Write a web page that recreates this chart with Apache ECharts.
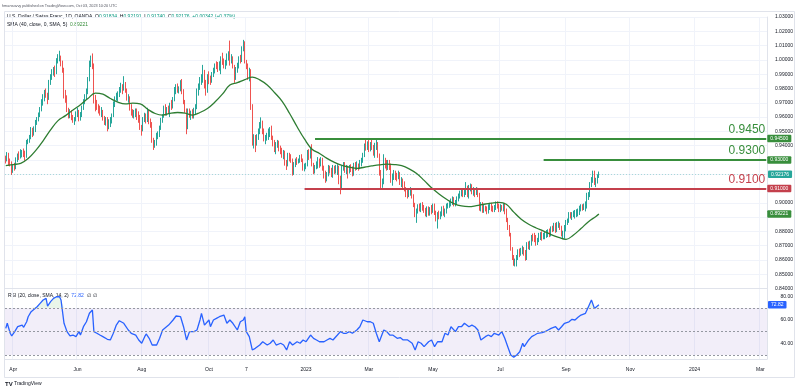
<!DOCTYPE html>
<html><head><meta charset="utf-8">
<script src="https://cdn.jsdelivr.net/npm/echarts@6/dist/echarts.min.js"></script>
<style>html,body{margin:0;padding:0;background:#fff}#c{width:800px;height:392px}</style>
</head><body><div id="c"></div>
<script>
// ---------- DATA ----------
const firstDate = '2022-03-25';
const lastDate = '2024-03-07';
const firstOpen = 0.9310;
const closes = [
0.9298,0.9335,0.9300,0.9282,0.9232,
0.9255,0.9250,0.9300,0.9330,0.9328,0.9335,0.9352,0.9350,0.9322,0.9425,0.9435,0.9452,0.9510,0.9478,0.9500,0.9562,0.9580,0.9612,0.9652,0.9705,0.9728,
0.9772,0.9758,0.9728,0.9842,0.9880,0.9918,0.9930,0.9908,0.9998,1.0005,1.0015,0.9978,0.9935,0.9752,0.9738,0.9650,0.9615,0.9635,0.9595,0.9580,0.9585,0.9620,
0.9640,0.9590,0.9612,0.9660,0.9700,0.9742,0.9772,0.9862,0.9980,1.0012,0.9960,0.9712,0.9710,0.9665,0.9650,0.9640,0.9642,0.9592,0.9570,0.9578,0.9550,0.9552,
0.9570,0.9612,0.9690,0.9730,0.9740,0.9752,0.9792,0.9810,0.9790,0.9830,0.9790,0.9730,0.9732,0.9660,0.9630,0.9620,0.9622,0.9632,0.9610,0.9598,0.9528,
0.9510,0.9582,0.9600,0.9580,0.9640,0.9570,0.9552,0.9440,0.9400,0.9410,0.9470,0.9480,0.9522,0.9580,0.9600,0.9660,0.9630,0.9650,0.9648,0.9680,0.9670,0.9722,0.9790,
0.9800,0.9788,0.9800,0.9840,0.9780,0.9710,0.9650,0.9530,0.9640,0.9620,0.9620,0.9612,0.9650,0.9670,0.9780,0.9810,0.9860,0.9862,0.9892,0.9850,0.9785,0.9880,
0.9872,0.9870,0.9900,0.9930,0.9962,0.9960,0.9950,0.9962,1.0002,0.9990,0.9960,0.9980,1.0020,1.0030,0.9985,1.0010,0.9958,0.9870,0.9930,0.9950,1.0010,
1.0000,1.0080,1.0130,0.9990,0.9960,0.9880,0.9920,0.9670,0.9425,0.9450,0.9410,0.9460,0.9500,0.9550,0.9552,0.9500,0.9450,0.9452,0.9470,0.9482,0.9490,0.9460,
0.9420,0.9370,0.9410,0.9410,0.9380,0.9370,0.9335,0.9342,0.9272,0.9262,0.9330,0.9320,0.9300,0.9205,0.9270,0.9292,0.9290,0.9300,0.9310,0.9300,0.9242,0.9250,
0.9262,0.9352,0.9330,0.9372,0.9272,0.9222,0.9250,0.9270,0.9300,0.9262,0.9300,0.9240,0.9200,0.9162,0.9200,0.9250,0.9230,0.9200,0.9250,0.9222,0.9232,0.9250,
0.9150,0.9112,0.9242,0.9262,0.9230,0.9242,0.9230,0.9240,0.9232,0.9200,0.9262,0.9250,0.9262,0.9242,0.9280,0.9290,0.9332,0.9400,0.9390,0.9410,
0.9380,0.9410,0.9392,0.9350,0.9390,0.9410,0.9330,0.9210,0.9130,0.9140,0.9290,0.9280,0.9250,0.9272,0.9262,0.9160,0.9190,0.9200,0.9182,0.9180,0.9200,0.9142,0.9150,
0.9140,0.9100,0.9070,0.9050,0.9072,0.9080,0.9050,0.8990,0.8910,0.8942,0.8972,0.8960,0.8990,0.8960,0.8952,0.8920,0.8962,0.8920,0.8952,0.8942,
0.8980,0.8932,0.8890,0.8920,0.8910,0.8922,0.8962,0.8930,0.8942,0.8980,0.8982,0.9000,0.9002,0.9030,0.8992,0.9000,0.9032,0.9050,0.9062,0.9080,0.9060,0.9072,0.9100,
0.9060,0.9110,0.9112,0.9080,0.9082,0.9075,0.9090,0.9060,0.8960,0.8990,0.8950,0.8962,0.8960,0.8940,0.8972,0.8980,0.8960,0.8950,0.8960,0.8990,0.8982,0.8950,
0.8972,0.8962,0.8975,0.8940,0.8880,0.8830,0.8780,0.8680,0.8620,0.8582,0.8585,0.8620,0.8650,0.8642,0.8662,0.8680,0.8650,0.8612,0.8710,0.8700,0.8712,
0.8760,0.8752,0.8750,0.8722,0.8740,0.8770,0.8772,0.8770,0.8772,0.8780,0.8782,0.8800,0.8780,0.8822,0.8820,0.8842,0.8810,0.8850,0.8852,0.8830,0.8780,0.8790,0.8830,
0.8860,0.8880,0.8920,0.8912,0.8920,0.8922,0.8930,0.8932,0.8932,0.8962,0.8972,0.8970,0.8980,0.8990,0.9050,0.9052,0.9130,0.9160,0.9212,0.9150,0.9152,
0.91834,0.92176
];
const highs = [
0.9330,0.9355,0.9350,0.9310,0.9290,
0.9272,0.9280,0.9318,0.9345,0.9360,0.9375,0.9370,0.9380,0.9365,0.9440,0.9448,0.9475,0.9530,0.9525,0.9535,0.9580,0.9600,0.9632,0.9670,0.9725,0.9760,
0.9790,0.9800,0.9770,0.9860,0.9900,0.9935,0.9950,0.9960,1.0012,1.0040,1.0064,1.0030,0.9995,0.9945,0.9790,0.9752,0.9665,0.9655,0.9648,0.9615,0.9600,0.9640,
0.9665,0.9650,0.9635,0.9680,0.9725,0.9760,0.9800,0.9880,0.9995,1.0030,1.0045,0.9975,0.9755,0.9720,0.9690,0.9680,0.9670,0.9650,0.9608,0.9600,0.9600,0.9585,
0.9600,0.9625,0.9710,0.9745,0.9770,0.9780,0.9810,0.9840,0.9830,0.9886,0.9845,0.9800,0.9760,0.9745,0.9690,0.9655,0.9650,0.9660,0.9660,0.9640,0.9615,
0.9545,0.9600,0.9630,0.9625,0.9665,0.9650,0.9590,0.9565,0.9455,0.9440,0.9490,0.9500,0.9540,0.9595,0.9620,0.9680,0.9690,0.9670,0.9680,0.9700,0.9720,0.9740,0.9810,
0.9830,0.9835,0.9815,0.9858,0.9866,0.9795,0.9720,0.9660,0.9660,0.9660,0.9645,0.9655,0.9665,0.9690,0.9800,0.9835,0.9880,0.9900,0.9965,0.9930,0.9860,0.9900,
0.9920,0.9890,0.9915,0.9945,0.9975,0.9990,0.9985,0.9990,1.0025,1.0050,1.0010,1.0000,1.0045,1.0060,1.0135,1.0040,1.0025,0.9965,0.9950,0.9980,1.0025,
1.0035,1.0095,1.0140,1.0125,1.0000,0.9975,0.9945,0.9935,0.9690,0.9480,0.9475,0.9480,0.9520,0.9565,0.9598,0.9575,0.9520,0.9475,0.9490,0.9520,0.9530,0.9540,
0.9470,0.9440,0.9425,0.9440,0.9435,0.9400,0.9385,0.9370,0.9365,0.9300,0.9350,0.9350,0.9340,0.9310,0.9285,0.9310,0.9320,0.9310,0.9335,0.9340,0.9310,0.9275,
0.9280,0.9370,0.9375,0.9390,0.9410,0.9280,0.9265,0.9290,0.9320,0.9310,0.9320,0.9315,0.9260,0.9225,0.9215,0.9265,0.9260,0.9245,0.9265,0.9260,0.9265,0.9270,
0.9260,0.9190,0.9260,0.9285,0.9285,0.9265,0.9260,0.9265,0.9270,0.9255,0.9280,0.9285,0.9290,0.9275,0.9300,0.9315,0.9350,0.9415,0.9440,0.9430,
0.9440,0.9425,0.9440,0.9405,0.9420,0.9440,0.9425,0.9345,0.9230,0.9170,0.9340,0.9315,0.9300,0.9300,0.9300,0.9275,0.9205,0.9230,0.9225,0.9210,0.9225,0.9215,0.9180,
0.9170,0.9150,0.9110,0.9090,0.9090,0.9110,0.9100,0.9060,0.9000,0.8960,0.8990,0.8995,0.9000,0.9005,0.8985,0.8965,0.8975,0.8975,0.8970,0.8985,
0.8995,0.8995,0.8945,0.8935,0.8945,0.8940,0.8975,0.8980,0.8960,0.8995,0.9000,0.9015,0.9030,0.9045,0.9040,0.9020,0.9045,0.9065,0.9085,0.9100,0.9095,0.9095,0.9145,
0.9120,0.9125,0.9135,0.9130,0.9110,0.9100,0.9110,0.9105,0.9070,0.9005,0.9005,0.8985,0.8980,0.8975,0.8990,0.9000,0.9000,0.8980,0.8985,0.9010,0.9010,0.8995,
0.8990,0.8985,0.8998,0.9000,0.8960,0.8895,0.8845,0.8790,0.8690,0.8635,0.8610,0.8635,0.8675,0.8680,0.8685,0.8700,0.8690,0.8670,0.8725,0.8730,0.8735,
0.8775,0.8785,0.8790,0.8775,0.8755,0.8790,0.8795,0.8800,0.8790,0.8800,0.8810,0.8815,0.8820,0.8835,0.8840,0.8860,0.8860,0.8865,0.8870,0.8860,0.8840,0.8805,0.8845,
0.8880,0.8890,0.8935,0.8935,0.8935,0.8945,0.8950,0.8955,0.8960,0.8980,0.8990,0.8990,0.8995,0.9010,0.9070,0.9075,0.9145,0.9180,0.9225,0.9225,0.9175,
0.9200,0.92191
];
const lows = [
0.9275,0.9290,0.9260,0.9255,0.9195,
0.9210,0.9225,0.9235,0.9285,0.9300,0.9310,0.9318,0.9320,0.9295,0.9315,0.9410,0.9420,0.9445,0.9460,0.9470,0.9495,0.9545,0.9570,0.9600,0.9640,0.9680,
0.9710,0.9735,0.9690,0.9720,0.9825,0.9860,0.9890,0.9880,0.9900,0.9975,0.9990,0.9955,0.9910,0.9730,0.9700,0.9635,0.9590,0.9592,0.9578,0.9560,0.9545,0.9570,
0.9600,0.9570,0.9575,0.9600,0.9650,0.9690,0.9725,0.9760,0.9850,0.9950,0.9935,0.9695,0.9640,0.9650,0.9625,0.9610,0.9600,0.9575,0.9545,0.9540,0.9500,0.9515,
0.9530,0.9555,0.9600,0.9670,0.9715,0.9710,0.9740,0.9770,0.9760,0.9785,0.9770,0.9715,0.9700,0.9645,0.9610,0.9595,0.9590,0.9600,0.9580,0.9560,0.9510,
0.9470,0.9500,0.9565,0.9555,0.9565,0.9550,0.9525,0.9420,0.9370,0.9385,0.9400,0.9445,0.9460,0.9510,0.9560,0.9595,0.9610,0.9610,0.9625,0.9600,0.9650,0.9660,0.9710,
0.9760,0.9770,0.9765,0.9780,0.9760,0.9690,0.9630,0.9480,0.9515,0.9595,0.9580,0.9590,0.9590,0.9620,0.9655,0.9750,0.9790,0.9825,0.9840,0.9800,0.9750,0.9770,
0.9830,0.9825,0.9840,0.9880,0.9905,0.9935,0.9915,0.9925,0.9900,0.9965,0.9940,0.9935,0.9960,0.9995,0.9960,0.9975,0.9940,0.9840,0.9860,0.9910,0.9940,
0.9975,0.9985,1.0060,0.9975,0.9935,0.9860,0.9850,0.9650,0.9400,0.9380,0.9355,0.9400,0.9440,0.9480,0.9520,0.9480,0.9430,0.9410,0.9435,0.9440,0.9460,0.9440,
0.9395,0.9355,0.9340,0.9385,0.9360,0.9340,0.9315,0.9305,0.9260,0.9230,0.9255,0.9290,0.9280,0.9190,0.9195,0.9250,0.9265,0.9275,0.9280,0.9285,0.9225,0.9220,
0.9235,0.9255,0.9300,0.9310,0.9255,0.9200,0.9205,0.9235,0.9240,0.9245,0.9255,0.9225,0.9170,0.9140,0.9150,0.9185,0.9205,0.9180,0.9175,0.9200,0.9205,0.9195,
0.9130,0.9060,0.9100,0.9225,0.9210,0.9200,0.9170,0.9205,0.9215,0.9185,0.9190,0.9225,0.9230,0.9225,0.9235,0.9255,0.9280,0.9320,0.9365,0.9370,
0.9355,0.9360,0.9370,0.9330,0.9315,0.9370,0.9315,0.9190,0.9100,0.9105,0.9130,0.9240,0.9225,0.9230,0.9230,0.9140,0.9120,0.9160,0.9160,0.9150,0.9165,0.9125,0.9110,
0.9100,0.9080,0.9040,0.9030,0.9040,0.9050,0.9030,0.8970,0.8900,0.8860,0.8925,0.8940,0.8935,0.8945,0.8930,0.8905,0.8900,0.8910,0.8910,0.8920,
0.8930,0.8915,0.8870,0.8820,0.8885,0.8885,0.8905,0.8910,0.8900,0.8925,0.8960,0.8965,0.8975,0.8985,0.8975,0.8975,0.8990,0.9010,0.9030,0.9045,0.9040,0.9040,0.9055,
0.9040,0.9030,0.9080,0.9060,0.9050,0.9040,0.9055,0.9040,0.8945,0.8940,0.8930,0.8930,0.8940,0.8920,0.8925,0.8950,0.8940,0.8935,0.8935,0.8950,0.8960,0.8935,
0.8935,0.8945,0.8940,0.8920,0.8865,0.8810,0.8765,0.8665,0.8600,0.8560,0.8555,0.8555,0.8600,0.8620,0.8630,0.8640,0.8630,0.8595,0.8600,0.8675,0.8670,
0.8700,0.8730,0.8725,0.8700,0.8705,0.8725,0.8740,0.8735,0.8745,0.8745,0.8755,0.8760,0.8760,0.8765,0.8795,0.8800,0.8790,0.8795,0.8825,0.8810,0.8765,0.8745,0.8750,
0.8800,0.8845,0.8860,0.8890,0.8880,0.8900,0.8890,0.8900,0.8905,0.8915,0.8940,0.8945,0.8950,0.8940,0.8960,0.9020,0.9040,0.9110,0.9140,0.9125,0.9110,
0.9135,0.91740
];
// SMA (40, close, 0, SMA, 5): [bar index, value]
const smaPoints = [
[0,0.926],[5,0.9268],[10,0.9276],[15,0.931],[20,0.9365],[25,0.9434],[30,0.951],[35,0.9575],[40,0.961],[45,0.9649],[50,0.9686],[55,0.973],[60,0.9768],[65,0.976],[70,0.973],[75,0.9705],[80,0.9692],[85,0.9697],[90,0.9692],[95,0.9655],[100,0.9625],[105,0.9614],[110,0.9626],[115,0.9632],[120,0.9628],[125,0.9614],[130,0.9632],[135,0.966],[140,0.9705],[145,0.976],[150,0.9824],[155,0.9841],[160,0.9862],[165,0.988],[170,0.986],[175,0.9824],[180,0.977],[185,0.971],[190,0.9625],[195,0.9532],[200,0.9445],[205,0.9375],[210,0.9345],[215,0.9311],[220,0.9283],[225,0.9262],[230,0.925],[235,0.9241],[240,0.9249],[245,0.9258],[250,0.9266],[255,0.9271],[260,0.9268],[265,0.926],[270,0.9238],[275,0.9205],[280,0.9157],[285,0.9105],[290,0.9062],[295,0.9025],[300,0.8995],[305,0.8978],[310,0.8973],[315,0.898],[320,0.899],[325,0.8998],[330,0.9003],[335,0.899],[340,0.8935],[345,0.8885],[350,0.885],[355,0.8824],[360,0.8802],[365,0.8778],[370,0.8759],[375,0.8745],[380,0.8775],[385,0.882],[390,0.8868],[395,0.8905],[397,0.8922]
];
// RSI: [bar index, value]
const rsiPoints = [
[0,52.7],[1,57],[3,48.5],[4,46.2],[6,49.9],[8,54.1],[11,55.5],[12,53.6],[14,58.3],[15,62.6],[17,66.9],[18,65.5],[21,71.1],[23,74],[25,76.8],[27,78.2],[28,71.7],[30,75.4],[32,78.2],[34,79.6],[36,79.6],[37,76.8],[39,57],[41,49.9],[43,46.2],[45,47],[47,45.6],[49,49.9],[50,47],[52,54.1],[54,58.3],[56,65.5],[58,68.3],[59,49.9],[61,48.5],[63,47],[65,45.6],[68,43.4],[70,42.8],[72,48.5],[74,55.5],[76,59.2],[79,57],[80,58.3],[82,51.3],[84,48.5],[87,47],[89,42.8],[91,40],[93,45.6],[94,47.9],[96,44.2],[98,38.5],[101,38.5],[103,44.2],[105,51.3],[109,55.5],[112,59.8],[114,63.2],[117,62.6],[118,64],[119,54.1],[121,42.8],[123,49.9],[126,49.9],[128,51.3],[130,59.8],[131,65.5],[133,55.5],[136,59.8],[137,54.1],[139,59.8],[141,61.2],[143,62.6],[146,64],[148,57],[150,59.8],[152,57],[155,51.3],[157,58.3],[159,59.8],[160,62.6],[161,49.9],[163,45.6],[165,34.3],[167,35.7],[170,38.5],[172,41.3],[175,38.5],[177,40],[179,42.8],[181,38.5],[184,40],[186,38.5],[188,34.3],[190,41.3],[192,38.5],[195,41.3],[197,40],[199,42.8],[201,41.3],[204,47],[206,44.2],[208,42.8],[210,41.3],[213,41.3],[215,42.8],[217,44.2],[219,42.8],[222,47],[224,49.9],[226,48.5],[228,48.5],[230,49.9],[232,48.5],[235,51.3],[237,54.1],[239,59.8],[242,58.3],[244,58.3],[246,57],[248,48.5],[250,41.3],[253,51.3],[255,49.9],[257,47],[259,47],[262,44.2],[264,44.9],[266,42.8],[269,42.8],[272,40],[274,34.3],[276,41.3],[278,40],[280,37.1],[283,41.3],[285,42.8],[287,37.1],[289,41.3],[292,41.3],[294,48.5],[296,47],[298,54.1],[301,49.9],[303,54.1],[305,54.1],[307,57],[310,54.1],[312,55.5],[314,54.1],[316,51.3],[318,42.8],[321,45.6],[323,47],[325,45.6],[327,48.5],[330,47],[332,49.9],[334,44.2],[336,37.1],[338,30],[340,28],[342,30],[344,32.8],[346,40],[347,37.1],[350,42.8],[352,45.6],[354,47],[356,48.5],[359,49],[361,49.9],[363,51.3],[365,52.7],[368,54.1],[370,51.3],[372,54.1],[374,57],[377,58.3],[379,60.4],[381,59.8],[383,62.1],[385,64],[388,65.5],[390,71.1],[392,76.8],[393,78.2],[394,69.7],[395,71.1],[397,72.82]
];
// horizontal levels drawn on the chart
const levelValues = [0.945, 0.93, 0.91];
const levelStartIdx = [207, 360, 200];
const levelTexts = ['0.9450', '0.9300', '0.9100'];
const levelColors = ['#388e3c', '#388e3c', '#c4404c'];
const lastPrice = 0.92176;
const lastSma = 0.89221;
const lastRsi = 72.82;
// time axis labels
const tickDates = ['2022-04-01','2022-06-01','2022-08-01','2022-10-03','2022-11-07','2023-01-02','2023-03-01','2023-05-01','2023-07-03','2023-09-01','2023-11-01','2024-01-01','2024-03-01'];
const tickTexts = ['Apr','Jun','Aug','Oct','7','2023','Mar','May','Jul','Sep','Nov','2024','Mar'];
const hiddenPriceLabels = ['0.89','0.91','0.92','0.93'];

// ---------- BUILD ----------
function weekdays(a, b) {
  const out = []; let d = new Date(a + 'T00:00:00Z'); const e = new Date(b + 'T00:00:00Z');
  while (d <= e) { const w = d.getUTCDay(); if (w !== 0 && w !== 6) out.push(d.toISOString().slice(0, 10)); d = new Date(d.getTime() + 86400000); }
  return out;
}
const dates = weekdays(firstDate, lastDate);
const endD = dates[dates.length - 1];
const lastD = dates[closes.length - 1];
const candles = closes.map((c, i) => {
  const o = i === 0 ? firstOpen : closes[i - 1];
  return [o, c, Math.min(lows[i], o, c), Math.max(highs[i], o, c)];
});
const tickMap = {}; tickDates.forEach((d, k) => tickMap[d] = tickTexts[k]);
const isTick = (idx, val) => tickMap[val] !== undefined;
const FONT = 'Liberation Sans';
const GRID_LINE = '#f0f3fa';
const BORDER = '#e0e3eb';
const HIDDEN_LINE = { color: 'rgba(255,255,255,0)', width: 0.01, type: 'solid' };

function tag(bg, text) {
  return { show: true, position: 'end', distance: 1, formatter: text, color: '#ffffff', backgroundColor: bg,
    fontSize: 5, fontFamily: FONT, padding: [1.5, 3, 1, 3], borderRadius: 1, opacity: 1 };
}
const levelLines = [];
levelValues.forEach((v, k) => {
  levelLines.push([
    { coord: [dates[levelStartIdx[k]], v], lineStyle: { color: levelColors[k], width: 2, type: 'solid' },
      label: { show: true, position: 'insideEndTop', distance: [1, 3], formatter: levelTexts[k], color: levelColors[k], fontSize: 12, fontFamily: FONT } },
    { coord: [endD, v] }
  ]);
  levelLines.push([
    { coord: [lastD, v], lineStyle: HIDDEN_LINE, label: tag(levelColors[k], v.toFixed(5)) },
    { coord: [endD, v] }
  ]);
});
levelLines.push({ yAxis: lastPrice, lineStyle: { color: 'rgba(38,166,154,0.35)', type: [1, 2], width: 1 }, label: tag('#26a69a', lastPrice.toFixed(5)) });

const chart = echarts.init(document.getElementById('c'), null, { renderer: 'canvas' });
chart.setOption({
  animation: false,
  backgroundColor: '#ffffff',
  textStyle: { fontFamily: FONT },
  grid: [
    { left: 5, right: 33, top: 17, height: 271.6 },
    { left: 5, right: 33, top: 289, height: 70 }
  ],
  xAxis: [
    { type: 'category', data: dates, gridIndex: 0, boundaryGap: true,
      axisLine: { show: true, lineStyle: { color: BORDER } }, axisTick: { show: false }, axisLabel: { show: false },
      splitLine: { show: true, interval: isTick, lineStyle: { color: GRID_LINE, width: 1 } } },
    { type: 'category', data: dates, gridIndex: 1, boundaryGap: true,
      axisLine: { show: true, lineStyle: { color: BORDER } }, axisTick: { show: false },
      axisLabel: { show: true, interval: isTick, formatter: v => tickMap[v] || '', fontSize: 5, color: '#131722', margin: 8, fontFamily: FONT },
      splitLine: { show: true, interval: isTick, lineStyle: { color: GRID_LINE, width: 1 } } }
  ],
  yAxis: [
    { type: 'value', gridIndex: 0, position: 'right', min: 0.84, max: 1.03, interval: 0.01, scale: true,
      axisLine: { show: true, lineStyle: { color: BORDER } }, axisTick: { show: false },
      axisLabel: { fontSize: 5, color: '#131722', margin: 26, align: 'right', fontFamily: FONT,
        formatter: v => hiddenPriceLabels.includes(v.toFixed(2)) ? '' : v.toFixed(5) },
      splitLine: { show: true, lineStyle: { color: GRID_LINE, width: 1 } } },
    { type: 'value', gridIndex: 1, position: 'right', min: 26.6, max: 86.2,
      axisLine: { show: true, lineStyle: { color: BORDER } }, axisTick: { show: false },
      axisLabel: { customValues: [40, 60, 80], fontSize: 5, color: '#131722', margin: 26, align: 'right', fontFamily: FONT, formatter: v => v.toFixed(2) },
      splitLine: { show: false } }
  ],
  series: [
    { type: 'candlestick', name: 'USDCHF', xAxisIndex: 0, yAxisIndex: 0, data: candles,
      itemStyle: { color: '#26a69a', color0: '#ef5350', borderColor: '#26a69a', borderColor0: '#ef5350', borderWidth: 1 },
      markLine: { silent: true, symbol: ['none', 'none'], animation: false, data: levelLines } },
    { type: 'line', name: 'SMA', xAxisIndex: 0, yAxisIndex: 0, data: smaPoints.map(p => [dates[p[0]], p[1]]),
      smooth: 0.4, showSymbol: false, symbol: 'none', lineStyle: { color: '#2e7d32', width: 1.3 },
      markLine: { silent: true, symbol: ['none', 'none'], data: [[
        { coord: [lastD, lastSma], lineStyle: HIDDEN_LINE, label: tag('#388e3c', lastSma.toFixed(5)) }, { coord: [endD, lastSma] }
      ]] } },
    { type: 'line', name: 'RSI band', xAxisIndex: 1, yAxisIndex: 1, data: rsiPoints.map(p => [dates[p[0]], Math.max(p[1], 70)]),
      showSymbol: false, symbol: 'none', lineStyle: { width: 0 }, areaStyle: { origin: 70, color: 'rgba(76,175,80,0.18)' },
      markArea: { silent: true, itemStyle: { color: 'rgba(126,87,194,0.1)' }, data: [[{ yAxis: 30 }, { yAxis: 70 }]] } },
    { type: 'line', name: 'RSI', xAxisIndex: 1, yAxisIndex: 1, data: rsiPoints.map(p => [dates[p[0]], p[1]]),
      showSymbol: false, symbol: 'none', lineStyle: { color: '#2962ff', width: 1.3 },
      markLine: { silent: true, symbol: ['none', 'none'], data: [
        { yAxis: 70, lineStyle: { color: '#9598a1', type: [2, 2], width: 1 }, label: { show: false } },
        { yAxis: 50, lineStyle: { color: '#9598a1', type: [2, 2], width: 1 }, label: { show: false } },
        { yAxis: 30, lineStyle: { color: '#9598a1', type: [2, 2], width: 1 }, label: { show: false } },
        { yAxis: lastRsi, lineStyle: HIDDEN_LINE, label: tag('#2962ff', lastRsi.toFixed(2)) }
      ] } }
  ],
  graphic: [
    { type: 'rect', silent: true, shape: { x: 4.5, y: 11.5, width: 790, height: 366 }, style: { fill: 'none', stroke: BORDER, lineWidth: 1 }, z: -1 },
    { type: 'text', left: 2, top: 4, silent: true, style: { text: 'hmansavvy published on TradingView.com, Oct 03, 2023 10:20 UTC', fontSize: 3.8, fill: '#50535e', fontFamily: FONT } },
    { type: 'text', left: 7, top: 14.5, silent: true, style: { text: 'U.S. Dollar / Swiss Franc, 1D, OANDA  O{v|0.91834}  H{v|0.92191}  L{v|0.91740}  C{v|0.92176}  {v|+0.00342 (+0.37%)}', fontSize: 5, fill: '#131722', fontFamily: FONT, rich: { v: { fill: '#089981', fontSize: 5, fontFamily: FONT } } } },
    { type: 'text', left: 7, top: 22.5, silent: true, style: { text: 'SMA (40, close, 0, SMA, 5)  {v|0.89221}', fontSize: 5, fill: '#131722', fontFamily: FONT, rich: { v: { fill: '#388e3c', fontSize: 5, fontFamily: FONT } } } },
    { type: 'text', left: 8, top: 293.5, silent: true, style: { text: 'RSI (20, close, SMA, 14, 2)  {b|72.82}  ∅  ∅', fontSize: 5, fill: '#131722', fontFamily: FONT, rich: { b: { fill: '#2962ff', fontSize: 5, fontFamily: FONT } } } },
    { type: 'text', left: 5, top: 381, silent: true, style: { text: '{l|TV} TradingView', fontSize: 5, fill: '#131722', fontFamily: FONT, rich: { l: { fontSize: 6, fontWeight: 'bold', fill: '#131722', fontFamily: FONT } } } }
  ]
});
</script>
</body></html>
